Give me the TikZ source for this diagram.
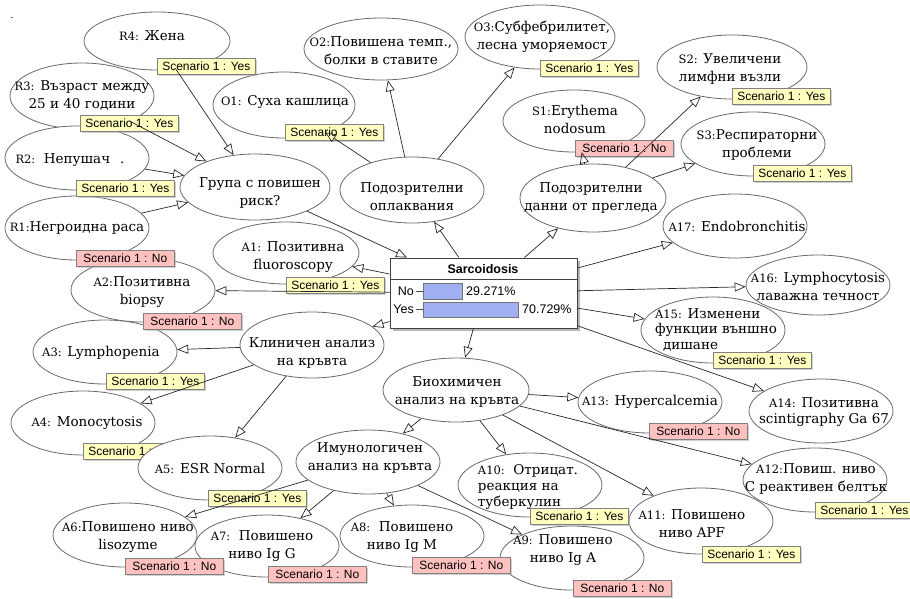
\documentclass[tikz,border=0pt]{standalone}
\usepackage{fontspec}
\setmainfont{DejaVu Serif}
\newfontfamily\labfont{Liberation Sans}
\usetikzlibrary{arrows.meta,shapes.geometric,shadows}
\definecolor{yel}{RGB}{255,255,192}
\definecolor{pinkc}{RGB}{255,192,192}
\definecolor{barc}{RGB}{160,176,240}
\definecolor{ellc}{RGB}{105,105,105}
\definecolor{labc}{RGB}{128,128,128}
\newcommand\pf[1]{{\fontsize{11.5}{11.5}\selectfont #1}}
\begin{document}
\begin{tikzpicture}[x=1pt,y=-1pt,
 ell/.style={ellipse, draw=ellc, fill=white, line width=0.8pt, minimum width=144pt, minimum height=64pt, inner sep=0pt},
 txt/.style={font=\fontsize{13.5}{18}\selectfont, align=center, inner sep=0pt, text=black},
 lab/.style={anchor=north west, font=\labfont\fontsize{12}{12}\selectfont, draw=labc, line width=0.6pt, minimum height=16pt, minimum width=98pt, inner xsep=5pt, inner ysep=0pt, drop shadow={shadow xshift=1.5pt, shadow yshift=-1.5pt, fill=black!30, opacity=0.6}},
 yes/.style={lab, fill=yel},
 no/.style={lab, fill=pinkc},
 arr/.style={draw=black!85, line width=0.7pt, -{Triangle[open, length=11pt, width=9pt]}},
 sbox/.style={draw=black!75, fill=white, line width=1pt, minimum width=187pt, minimum height=70pt, inner sep=0pt, drop shadow={shadow xshift=2.5pt, shadow yshift=-2.5pt, fill=black!40, opacity=0.7}},
 sf/.style={font=\labfont\fontsize{12.5}{12.5}\selectfont, inner sep=0pt},
]
\useasboundingbox (0,0) rectangle (910,598);
\node[font=\fontsize{10}{10}\selectfont] (dot) at (12,18) {.};
% ellipses
\node[ell, minimum width=146pt, minimum height=58pt] (r4) at (157,41) {};
\node[ell, minimum height=66pt] (r3) at (82,96) {};
\node[ell] (r2) at (77,158) {};
\node[ell] (r1) at (77,228) {};
\node[ell, minimum width=150pt, minimum height=66pt] (grp) at (255,187) {};
\node[ell, minimum width=142pt, minimum height=66pt] (o1) at (284,105) {};
\node[ell, minimum width=154pt, minimum height=62pt] (o2) at (381,49) {};
\node[ell, minimum width=150pt] (o3) at (540,37) {};
\node[ell, minimum height=66pt] (pdo) at (412,190) {};
\node[ell, minimum width=142pt, minimum height=62pt] (s1) at (574,121) {};
\node[ell, minimum width=150pt] (s2) at (732,67) {};
\node[ell] (s3) at (753,144) {};
\node[ell, minimum width=146pt, minimum height=68pt] (pdd) at (593,198) {};
\node[ell] (a17) at (735,226) {};
\node[ell, minimum height=60pt] (a16) at (818,285) {};
\node[ell, minimum height=66pt] (a15) at (713,330) {};
\node[ell, minimum height=64pt] (a14) at (821,411) {};
\node[ell, minimum height=62pt] (a13) at (650,402) {};
\node[ell] (a12) at (815,480) {};
\node[ell, minimum height=66pt] (a11) at (701,521) {};
\node[ell] (a10) at (530,485) {};
\node[ell, minimum width=146pt] (bio) at (456,390) {};
\node[ell] (imm) at (368,462) {};
\node[ell] (a9) at (572,558) {};
\node[ell, minimum height=62pt] (a8) at (412,536) {};
\node[ell] (a6) at (125,535) {};
\node[ell, minimum height=62pt] (a7) at (267,546) {};
\node[ell] (a4) at (83,423) {};
\node[yes] (a4l) at (83,443) {Scenario 1 : Yes};
\node[ell] (a5) at (210,468) {};
\node[ell] (a3) at (105,352) {};
\node[ell] (a2) at (143,290) {};
\node[ell, minimum width=146pt, minimum height=62pt] (a1) at (286,253) {};
\node[ell, minimum height=66pt] (kli) at (312,345) {};
% texts
\node[txt] (r4t) at (152,36) {\pf{R4:} Жена};
\node[txt] (r3t) at (82,96) {\pf{R3:} Възраст между\\25 и 40 години};
\node[txt] (r2t) at (70,160) {\pf{R2:}\ \ Непушач\hspace{10pt}.};
\node[txt] (r1t) at (77,228) {\pf{R1:}Негроидна раса};
\node[txt] (grpt) at (260,193) {Група с повишен\\риск?};
\node[txt] (o1t) at (285,102) {\pf{O1:} Суха кашлица};
\node[txt] (o2t) at (381,51) {\pf{O2:}Повишена темп.,\\болки в ставите};
\node[txt] (o3t) at (542,37) {\pf{O3:}Субфебрилитет,\\лесна уморяемост};
\node[txt] (pdot) at (412,197) {Подозрителни\\оплаквания};
\node[txt] (s1t) at (575,119) {\pf{S1:}Erythema\\nodosum};
\node[txt] (s2t) at (730,69) {\pf{S2:} Увеличени\\лимфни възли};
\node[txt] (s3t) at (757,145) {\pf{S3:}Респираторни\\проблеми};
\node[txt] (pddt) at (591,198) {Подозрителни\\данни от прегледа};
\node[txt] (a17t) at (737,226) {\pf{A17:} Endobronchitis};
\node[txt] (a16t) at (818,286) {\pf{A16:} Lymphocytosis\\лаважна течност};
\node[txt, align=left, font=\fontsize{13.5}{15.5}\selectfont] (a15t) at (716,330) {\pf{A15:} Изменени\\функции външно\\\hspace{8pt}дишане};
\node[txt, font=\fontsize{13.5}{16}\selectfont] (a14t) at (824,412) {\pf{A14:} Позитивна\\scintigraphy Ga 67};
\node[txt] (a13t) at (650,402) {\pf{A13:} Hypercalcemia};
\node[txt] (a12t) at (816,479) {\pf{A12:}Повиш. ниво\\С реактивен белтък};
\node[txt] (a11t) at (692,524) {\pf{A11:} Повишено\\ниво APF};
\node[txt, align=left, font=\fontsize{13.5}{16}\selectfont] (a10t) at (528,487) {\pf{A10:}\ \ Отрицат.\\реакция на\\туберкулин};
\node[txt] (biot) at (457,392) {Биохимичен\\анализ на кръвта};
\node[txt] (immt) at (370,458) {Имунологичен\\анализ на кръвта};
\node[txt] (a9t) at (563,550) {\pf{A9:} Повишено\\ниво Ig A};
\node[txt] (a8t) at (402,537) {\pf{A8:}\ \ Повишено\\ниво Ig M};
\node[txt] (a7t) at (262,546) {\pf{A7:}\ \ Повишено\\ниво Ig G};
\node[txt] (a6t) at (128,537) {\pf{A6:}Повишено ниво\\lisozyme};
\node[txt] (a5t) at (210,468) {\pf{A5:} ESR Normal};
\node[txt] (a4t) at (87,423) {\pf{A4:} Monocytosis};
\node[txt] (a3t) at (101,353) {\pf{A3:} Lymphopenia};
\node[txt] (a2t) at (142,292) {\pf{A2:}Позитивна\\biopsy};
\node[txt] (a1t) at (293,257) {\pf{A1:} Позитивна\\fluoroscopy};
\node[txt] (klit) at (312,353) {Клиничен анализ\\на кръвта};
% Sarcoidosis monitor
\node[sbox] (sarc) at (483.5,293) {};
\draw[black!75, line width=0.8pt] (390,279) -- (577,279);
\node[sf, font=\labfont\bfseries\fontsize{12.5}{12.5}\selectfont] (stitle) at (483,269.5) {Sarcoidosis};
\node[sf, anchor=east] (sno) at (414,291) {No};
\node[sf, anchor=east] (syes) at (414,309.5) {Yes};
\draw[black!70, line width=0.6pt] (416,291) -- (423,291) (416,309.5) -- (423,309.5);
\draw[fill=barc, draw=black!55, line width=0.6pt] (423,283) rectangle (462,299);
\draw[fill=barc, draw=black!55, line width=0.6pt] (423,302) rectangle (518,317);
\node[sf, anchor=west] (pno) at (466,291) {29.271\%};
\node[sf, anchor=west] (pyes) at (522,309.5) {70.729\%};
% evidence labels
\node[yes] (r4l) at (157,58) {Scenario 1 : Yes};
\node[yes] (r3l) at (80,115) {Scenario 1 : Yes};
\node[yes] (r2l) at (76,180) {Scenario 1 : Yes};
\node[no] (r1l) at (76,250) {Scenario 1 : No};
\node[yes] (o1l) at (285,124) {Scenario 1 : Yes};
\node[yes] (o3l) at (540,60) {Scenario 1 : Yes};
\node[no] (s1l) at (575,140) {Scenario 1 : No};
\node[yes] (s2l) at (732,88) {Scenario 1 : Yes};
\node[yes] (s3l) at (753,165) {Scenario 1 : Yes};
\node[yes] (a1l) at (286,277) {Scenario 1 : Yes};
\node[no] (a2l) at (143,313) {Scenario 1 : No};
\node[yes] (a3l) at (106,373) {Scenario 1 : Yes};
\node[yes] (a5l) at (208,490) {Scenario 1 : Yes};
\node[no] (a6l) at (125,558) {Scenario 1 : No};
\node[no] (a7l) at (268,566) {Scenario 1 : No};
\node[no] (a8l) at (412,557) {Scenario 1 : No};
\node[no] (a9l) at (573,580) {Scenario 1 : No};
\node[yes] (a10l) at (530,508) {Scenario 1 : Yes};
\node[yes] (a11l) at (702,546) {Scenario 1 : Yes};
\node[yes] (a12l) at (815,502) {Scenario 1 : Yes};
\node[no] (a13l) at (649,423) {Scenario 1 : No};
\node[yes] (a15l) at (713,352) {Scenario 1 : Yes};
% connectors
\draw[arr] (r4) -- (grp);
\draw[arr] (r3) -- (grp);
\draw[arr] (r2) -- (grp);
\draw[arr] (r1) -- (grp);
\draw[arr] (grp) -- (sarc);
\draw[arr] (sarc) -- (a1);
\draw[arr] (sarc) -- (a2);
\draw[arr] (sarc) -- (kli);
\draw[arr] (sarc) -- (pdo);
\draw[arr] (sarc) -- (pdd);
\draw[arr] (sarc) -- (a17);
\draw[arr] (sarc) -- (a16);
\draw[arr] (sarc) -- (a15);
\draw[arr] (sarc) -- (a14);
\draw[arr] (sarc) -- (bio);
\draw[arr] (pdo) -- (o1);
\draw[arr] (pdo) -- (o2);
\draw[arr] (pdo) -- (o3);
\draw[arr] (pdd) -- (s1);
\draw[arr] (pdd) -- (s2);
\draw[arr] (pdd) -- (s3);
\draw[arr] (kli) -- (a3);
\draw[arr] (kli) -- (a4);
\draw[arr] (kli) -- (a5);
\draw[arr] (bio) -- (a13);
\draw[arr] (bio) -- (a12);
\draw[arr] (bio) -- (a11);
\draw[arr] (bio) -- (a10);
\draw[arr] (bio) -- (imm);
\draw[arr] (imm) -- (a6);
\draw[arr] (imm) -- (a7);
\draw[arr] (imm) -- (a8);
\draw[arr] (imm) -- (a9);
\end{tikzpicture}
\end{document}
